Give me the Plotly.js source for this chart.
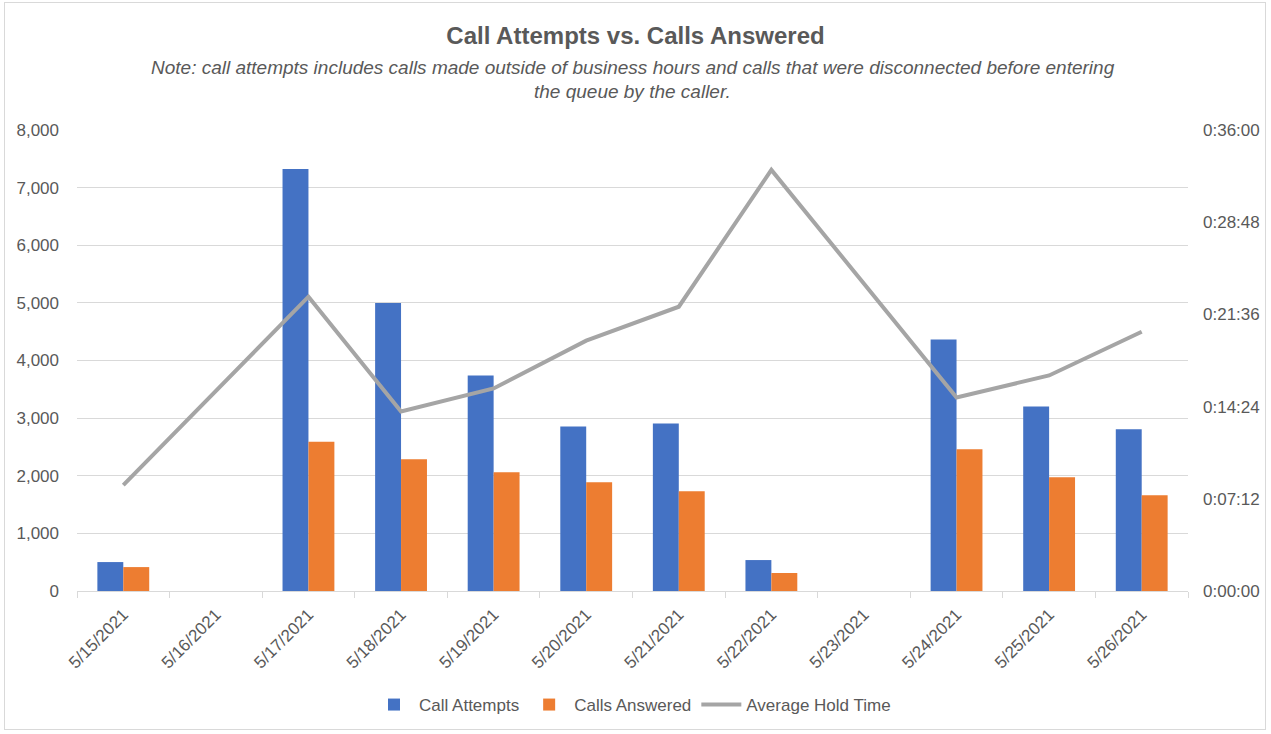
<!DOCTYPE html>
<html>
<head>
<meta charset="utf-8">
<script src="https://cdn.plot.ly/plotly-3.0.1.min.js"></script>
<style>
html,body{margin:0;padding:0;background:#fff;}
#frame{position:absolute;left:4px;top:2px;width:1262px;height:728px;border:1px solid #d9d9d9;box-sizing:border-box;}
#chart{position:absolute;left:0;top:0;width:1271px;height:734px;}
</style>
</head>
<body>
<div id="frame"></div>
<div id="chart"></div>
<script>
const dates = ["5/15/2021","5/16/2021","5/17/2021","5/18/2021","5/19/2021","5/20/2021","5/21/2021","5/22/2021","5/23/2021","5/24/2021","5/25/2021","5/26/2021"];
const callAttempts = [502, null, 7325, 5000, 3740, 2855, 2905, 537, null, 4364, 3203, 2805];
const callsAnswered = [415, null, 2590, 2286, 2060, 1887, 1732, 312, null, 2459, 1974, 1662];
// average hold time in seconds
const avgHoldSeconds = [496, null, 1379, 841, 949, 1173, 1332, 1973, null, 907, 1010, 1215];
const holdTickVals = [0, 432, 864, 1296, 1728, 2160];
const holdTickText = ["0:00:00","0:07:12","0:14:24","0:21:36","0:28:48","0:36:00"];
const leftTickVals = [0,1000,2000,3000,4000,5000,6000,7000,8000];

const FONT = "Liberation Sans, Arial, sans-serif";
const TXT = "#595959";

const traces = [
  {type:"bar", name:"Call Attempts", x:dates, y:callAttempts, marker:{color:"#4472c4"}, hoverinfo:"none"},
  {type:"bar", name:"Calls Answered", x:dates, y:callsAnswered, marker:{color:"#ed7d31"}, hoverinfo:"none"},
  {type:"scatter", mode:"lines", name:"Average Hold Time", x:dates, y:avgHoldSeconds, yaxis:"y2",
   connectgaps:true, line:{color:"#a5a5a5", width:4}, hoverinfo:"none"}
];

const layout = {
  width:1271, height:734,
  paper_bgcolor:"rgba(0,0,0,0)", plot_bgcolor:"rgba(0,0,0,0)",
  margin:{l:77, r:83, t:130, b:142},
  font:{family:FONT, color:TXT, size:17},
  barmode:"group", bargap:0.44, bargroupgap:0,
  title:{text:"<b>Call Attempts vs. Calls Answered</b>", x:0.5, xanchor:"center", y:0.951, yanchor:"middle",
         font:{family:FONT, size:24, color:TXT}},
  annotations:[
    {text:"<i>Note: call attempts includes calls made outside of business hours and calls that were disconnected before entering</i>",
     xref:"paper", yref:"paper", x:0.5, y:1, xanchor:"center", yanchor:"middle", yshift:63, showarrow:false,
     font:{family:FONT, size:19, color:TXT}},
    {text:"<i>the queue by the caller.</i>",
     xref:"paper", yref:"paper", x:0.5, y:1, xanchor:"center", yanchor:"middle", yshift:39, showarrow:false,
     font:{family:FONT, size:19, color:TXT}}
  ],
  xaxis:{type:"category", tickangle:-45, ticks:"outside", ticklen:6, tickcolor:"#d9d9d9", tickson:"boundaries",
         showline:true, linecolor:"#d9d9d9", linewidth:1, showgrid:false, zeroline:false,
         ticklabelstandoff:6, tickfont:{family:FONT, size:17, color:TXT}},
  yaxis:{range:[0,8000], tickvals:leftTickVals, tickformat:",d", showgrid:true, gridcolor:"#d9d9d9", gridwidth:1,
         zeroline:false, showline:false, ticks:"", ticklabelstandoff:17, tickfont:{family:FONT, size:17, color:TXT}},
  yaxis2:{overlaying:"y", side:"right", range:[0,2160], tickvals:holdTickVals, ticktext:holdTickText,
          showgrid:false, zeroline:false, showline:false, ticks:"", ticklabelstandoff:14,
          tickfont:{family:FONT, size:17, color:TXT}},
  legend:{orientation:"h", x:0.5, xanchor:"center", y:-0.2446, yanchor:"middle",
          font:{family:FONT, size:17, color:TXT}, itemwidth:40, traceorder:"normal"},
  showlegend:true
};

Plotly.newPlot("chart", traces, layout, {displayModeBar:false, staticPlot:true});
</script>
</body>
</html>
